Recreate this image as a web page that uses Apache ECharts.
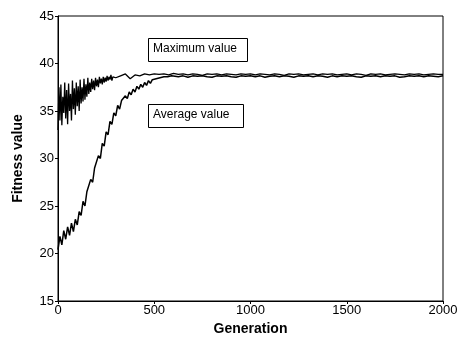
<!DOCTYPE html>
<html><head><meta charset="utf-8">
<script src="https://cdn.jsdelivr.net/npm/echarts@6/dist/echarts.min.js"></script>
<style>html,body{margin:0;padding:0;background:#fff}#c{width:463px;height:342px}</style>
</head><body><div id="c"></div>
<script>
var maxGen = [0,5,10,15,20,25,30,35,40,45,50,55,60,65,70,75,80,85,90,95,100,105,110,115,120,125,130,135,140,145,150,155,160,165,170,175,180,185,190,195,200,205,210,215,220,225,230,235,240,245,250,255,260,265,270,275,280,285,290,295,300,
325,350,375,400,425,450,475,500,525,550,575,600,625,650,675,700,725,750,775,800,825,850,875,900,925,950,975,1000,1025,1050,1075,1100,1125,1150,1175,1200,1225,1250,1275,1300,1325,1350,1375,1400,1425,1450,1475,1500,1525,1550,1575,1600,1625,1650,1675,1700,1725,1750,1775,1800,1825,1850,1875,1900,1925,1950,1975,2000];
var maxVal = [33.0,37.5,34.0,37.8,33.5,36.5,34.8,38.0,34.2,37.2,33.6,37.9,35.0,36.8,34.0,38.2,35.2,37.4,34.6,38.0,35.5,37.6,35.0,38.3,35.8,37.5,36.0,38.4,36.2,37.8,36.5,38.5,36.8,38.0,37.0,38.4,37.3,38.2,37.2,38.5,37.6,38.3,37.5,38.6,37.9,38.4,37.8,38.6,38.0,38.5,38.1,38.7,38.2,38.6,38.3,38.8,38.2,38.6,38.4,38.8,38.5,
38.7,38.9,38.4,38.8,38.7,38.9,38.8,38.9,38.85,38.9,38.8,38.95,38.85,38.9,38.8,38.9,38.85,38.75,38.9,38.85,38.9,38.8,38.9,38.85,38.8,38.9,38.85,38.9,38.8,38.9,38.85,38.8,38.9,38.85,38.75,38.9,38.85,38.9,38.8,38.85,38.9,38.8,38.9,38.85,38.9,38.8,38.85,38.9,38.8,38.9,38.85,38.75,38.9,38.85,38.9,38.8,38.85,38.9,38.85,38.8,38.9,38.85,38.9,38.8,38.85,38.9,38.85,38.85];
var avgGen = [0,10,20,30,40,50,60,70,80,90,100,110,120,130,140,150,160,170,180,190,200,210,220,230,240,250,260,270,280,290,300,310,320,330,340,350,360,370,380,390,400,410,420,430,440,450,460,470,480,490,500,510,520,530,540,550,560,570,580,590,600,
625,650,675,700,725,750,775,800,825,850,875,900,925,950,975,1000,1025,1050,1075,1100,1125,1150,1175,1200,1225,1250,1275,1300,1325,1350,1375,1400,1425,1450,1475,1500,1525,1550,1575,1600,1625,1650,1675,1700,1725,1750,1775,1800,1825,1850,1875,1900,1925,1950,1975,2000];
var avgVal = [20.4,21.8,20.9,22.4,21.5,22.8,21.9,23.2,22.3,23.6,23.0,24.4,24.0,25.5,25.0,26.5,26.3,27.8,27.5,29.0,28.8,30.3,30.0,31.6,31.3,32.8,32.5,33.9,33.6,34.8,34.5,35.6,35.2,36.1,35.9,36.6,36.3,37.0,36.7,37.3,37.0,37.6,37.3,37.8,37.5,38.0,37.7,38.2,37.9,38.3,38.1,38.4,38.2,38.5,38.3,38.6,38.4,38.6,38.5,38.7,38.5,
38.6,38.7,38.55,38.7,38.65,38.7,38.6,38.55,38.7,38.65,38.7,38.6,38.55,38.7,38.65,38.7,38.6,38.7,38.55,38.65,38.7,38.6,38.7,38.65,38.55,38.7,38.65,38.7,38.6,38.7,38.65,38.55,38.7,38.6,38.7,38.65,38.7,38.6,38.55,38.7,38.65,38.7,38.6,38.7,38.65,38.7,38.55,38.6,38.7,38.65,38.7,38.6,38.7,38.65,38.6,38.7];
var xTicks = [0,500,1000,1500,2000];
var yTicks = [15,20,25,30,35,40,45];
var labels = {max:'Maximum value', avg:'Average value', x:'Generation', y:'Fitness value'};

function pairs(g,v){return g.map(function(x,i){return [x,v[i]];});}
var chart = echarts.init(document.getElementById('c'));
var font = 'Liberation Sans, Arial, sans-serif';
chart.setOption({
  animation:false,
  backgroundColor:'#fff',
  grid:{left:58,right:20,top:16,bottom:41,show:true,borderColor:'#000',borderWidth:1,backgroundColor:'transparent'},
  xAxis:{type:'value',min:0,max:2000,interval:500,
    name:labels.x,nameLocation:'middle',nameGap:18,
    nameTextStyle:{fontFamily:font,fontWeight:'bold',fontSize:14,color:'#000'},
    axisLine:{lineStyle:{color:'#000',width:1}},axisTick:{length:3,lineStyle:{color:'#000'}},
    axisLabel:{fontFamily:font,fontSize:13,color:'#000',margin:3,formatter:function(v){return String(v);}},splitLine:{show:false}},
  yAxis:{type:'value',min:15,max:45,interval:5,
    name:labels.y,nameLocation:'middle',nameGap:33,
    nameTextStyle:{fontFamily:font,fontWeight:'bold',fontSize:14,color:'#000'},
    axisLine:{show:true,lineStyle:{color:'#000',width:1}},axisTick:{show:true,length:3,lineStyle:{color:'#000'}},
    axisLabel:{fontFamily:font,fontSize:13,color:'#000',margin:4,formatter:function(v){return String(v);}},splitLine:{show:false}},
  series:[
    {type:'line',data:pairs(maxGen,maxVal),showSymbol:false,lineStyle:{color:'#000',width:1.3}},
    {type:'line',data:pairs(avgGen,avgVal),showSymbol:false,lineStyle:{color:'#000',width:1.5}}
  ],
  graphic:[
    {type:'rect',left:148,top:38,shape:{width:99,height:23},style:{fill:'#fff',stroke:'#000',lineWidth:1}},
    {type:'text',left:153,top:43,style:{text:labels.max,font:'12px Liberation Sans, Arial, sans-serif',fill:'#000'}},
    {type:'rect',left:148,top:104,shape:{width:95,height:23},style:{fill:'#fff',stroke:'#000',lineWidth:1}},
    {type:'text',left:153,top:109,style:{text:labels.avg,font:'12px Liberation Sans, Arial, sans-serif',fill:'#000'}}
  ]
});
</script></body></html>
